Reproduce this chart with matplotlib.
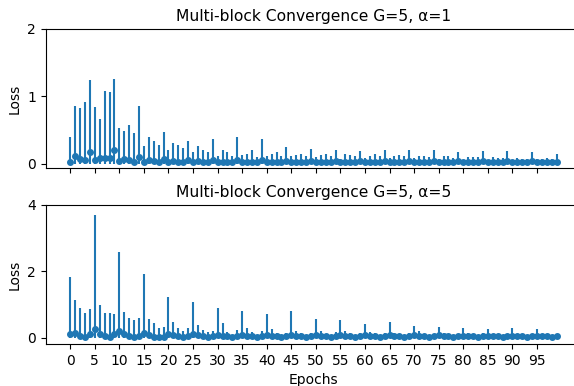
import matplotlib
matplotlib.use("Agg")
import matplotlib.pyplot as plt
import numpy as np

epochs = list(range(100))

# alpha = 1 : mean loss per epoch and max loss per epoch
mean_a1 = [0.02, 0.12, 0.07, 0.05, 0.17, 0.05, 0.09, 0.09, 0.09, 0.21,
           0.04, 0.07, 0.05, 0.03, 0.10, 0.02, 0.06, 0.04, 0.03, 0.07,
           0.03, 0.04, 0.03, 0.03, 0.05, 0.02, 0.04, 0.03, 0.03, 0.05,
           0.02, 0.03, 0.03, 0.02, 0.05, 0.02, 0.03, 0.03, 0.02, 0.05,
           0.02, 0.03, 0.03, 0.02, 0.04, 0.02, 0.03, 0.03, 0.02, 0.04,
           0.02, 0.03, 0.03, 0.02, 0.04, 0.02, 0.03, 0.03, 0.02, 0.04,
           0.02, 0.03, 0.03, 0.02, 0.04, 0.02, 0.03, 0.03, 0.02, 0.04,
           0.02, 0.03, 0.03, 0.02, 0.04, 0.02, 0.03, 0.03, 0.02, 0.04,
           0.02, 0.03, 0.03, 0.02, 0.04, 0.02, 0.03, 0.03, 0.02, 0.04,
           0.02, 0.03, 0.03, 0.02, 0.04, 0.02, 0.03, 0.03, 0.02, 0.03]
max_a1 = [0.40, 0.85, 0.83, 0.91, 1.24, 0.84, 0.67, 1.08, 1.07, 1.26,
          0.53, 0.49, 0.58, 0.45, 0.85, 0.26, 0.39, 0.34, 0.28, 0.47,
          0.21, 0.30, 0.28, 0.23, 0.34, 0.17, 0.26, 0.21, 0.17, 0.36,
          0.12, 0.21, 0.18, 0.12, 0.39, 0.13, 0.15, 0.20, 0.10, 0.36,
          0.12, 0.15, 0.18, 0.11, 0.25, 0.11, 0.13, 0.15, 0.11, 0.22,
          0.10, 0.13, 0.15, 0.11, 0.20, 0.07, 0.15, 0.13, 0.11, 0.19,
          0.08, 0.12, 0.14, 0.11, 0.20, 0.08, 0.11, 0.13, 0.11, 0.21,
          0.08, 0.11, 0.11, 0.10, 0.21, 0.07, 0.11, 0.11, 0.08, 0.18,
          0.06, 0.10, 0.10, 0.10, 0.19, 0.06, 0.10, 0.08, 0.08, 0.19,
          0.06, 0.08, 0.07, 0.07, 0.18, 0.07, 0.07, 0.08, 0.07, 0.14]
min_a1 = [0.0] * 100  # every bar starts at zero in the picture

# alpha = 5
mean_a5 = [0.11, 0.13, 0.05, 0.03, 0.10, 0.25, 0.11, 0.05, 0.03, 0.11,
           0.20, 0.10, 0.05, 0.03, 0.06, 0.15, 0.07, 0.03, 0.02, 0.03,
           0.10, 0.07, 0.04, 0.03, 0.04, 0.10, 0.07, 0.04, 0.03, 0.04,
           0.09, 0.06, 0.04, 0.03, 0.04, 0.09, 0.06, 0.04, 0.03, 0.04,
           0.08, 0.06, 0.04, 0.03, 0.04, 0.08, 0.05, 0.04, 0.03, 0.04,
           0.07, 0.05, 0.04, 0.03, 0.04, 0.07, 0.05, 0.04, 0.03, 0.04,
           0.07, 0.05, 0.04, 0.03, 0.04, 0.07, 0.05, 0.04, 0.03, 0.04,
           0.07, 0.05, 0.04, 0.03, 0.04, 0.07, 0.05, 0.04, 0.03, 0.04,
           0.06, 0.05, 0.04, 0.03, 0.04, 0.06, 0.05, 0.04, 0.03, 0.04,
           0.06, 0.05, 0.04, 0.03, 0.04, 0.06, 0.05, 0.04, 0.03, 0.04]
max_a5 = [1.83, 1.14, 0.90, 0.74, 0.86, 3.69, 0.99, 0.74, 0.74, 0.72,
          2.59, 0.77, 0.59, 0.54, 0.59, 1.91, 0.57, 0.45, 0.28, 0.33,
          1.22, 0.49, 0.30, 0.20, 0.28, 1.08, 0.38, 0.23, 0.16, 0.20,
          0.89, 0.45, 0.16, 0.08, 0.23, 0.82, 0.28, 0.16, 0.08, 0.20,
          0.72, 0.25, 0.15, 0.06, 0.15, 0.80, 0.19, 0.13, 0.05, 0.15,
          0.56, 0.19, 0.11, 0.05, 0.17, 0.53, 0.19, 0.15, 0.05, 0.15,
          0.42, 0.16, 0.13, 0.05, 0.13, 0.47, 0.15, 0.11, 0.05, 0.13,
          0.37, 0.21, 0.08, 0.05, 0.10, 0.31, 0.15, 0.11, 0.05, 0.11,
          0.29, 0.13, 0.10, 0.05, 0.13, 0.27, 0.11, 0.10, 0.05, 0.11,
          0.29, 0.10, 0.07, 0.07, 0.11, 0.25, 0.11, 0.07, 0.07, 0.07]
min_a5 = [0.0] * 100

titles = ["Multi-block Convergence G=5, α=1", "Multi-block Convergence G=5, α=5"]
ytops = [2, 4]
yticks = [[0, 1, 2], [0, 2, 4]]
xticks = list(range(0, 100, 5))

fig, axes = plt.subplots(2, 1, figsize=(5.74, 3.86), dpi=100, sharex=True)
fig.subplots_adjust(left=0.08, right=1.012, bottom=0.109, top=0.925, hspace=0.266)

series = [(mean_a1, min_a1, max_a1), (mean_a5, min_a5, max_a5)]
for ax, (m, lo, hi), title, yt, ytop in zip(axes, series, titles, yticks, ytops):
    m = np.array(m); lo = np.array(lo); hi = np.array(hi)
    ax.errorbar(epochs, m, yerr=[m - lo, hi - m], fmt='o', color='#1f77b4',
                ms=4, elinewidth=1.5, capsize=0)
    ax.set_ylim(top=ytop)
    ax.set_yticks(yt)
    ax.set_ylabel("Loss")
    ax.set_title(title, fontsize=11.2)

axes[1].set_xticks(xticks)
axes[1].set_xlabel("Epochs")

fig.savefig("out.png", dpi=100)
